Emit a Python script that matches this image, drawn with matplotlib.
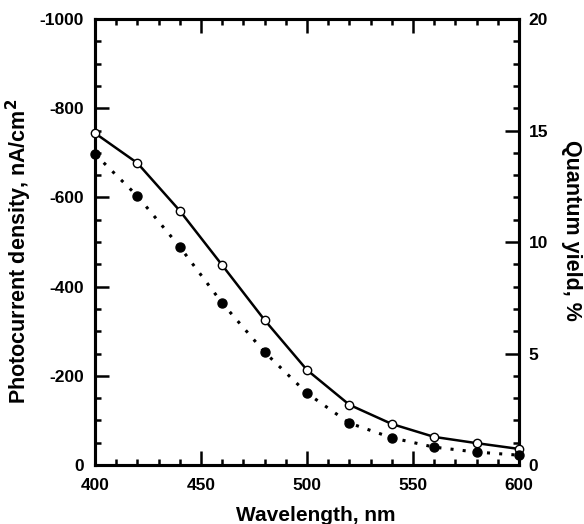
import matplotlib
matplotlib.use("Agg")
import matplotlib.pyplot as plt
from matplotlib.ticker import MultipleLocator

plt.rcParams['font.family'] = ['Liberation Sans', 'DejaVu Sans']
plt.rcParams['font.weight'] = 'bold'
plt.rcParams['axes.unicode_minus'] = False

wavelength = [400, 420, 440, 460, 480, 500, 520, 540, 560, 580, 600]
open_current = [-744, -677, -570, -448, -325, -213, -135, -92, -63, -49, -36]
filled_current = [-697, -603, -489, -363, -253, -161, -94, -61, -40, -29, -22]

fig = plt.figure(figsize=(5.84, 5.24), dpi=100)
ax = fig.add_axes([95/584, 1 - 465/524, (519-95)/584, (465-19)/524])

ax.set_xlim(400, 600)
ax.set_ylim(0, -1000)
ax.xaxis.set_major_locator(MultipleLocator(50))
ax.xaxis.set_minor_locator(MultipleLocator(10))
ax.yaxis.set_major_locator(MultipleLocator(200))
ax.yaxis.set_minor_locator(MultipleLocator(50))
ax.tick_params(which='both', direction='in', top=True, right=False, width=1.8, labelsize=12.5)
ax.tick_params(which='major', length=10)
ax.tick_params(which='minor', length=4.5)
ax.tick_params(axis='x', pad=9)
ax.tick_params(axis='y', pad=8)
for s in ax.spines.values():
    s.set_linewidth(2.2)
for lbl in ax.get_xticklabels() + ax.get_yticklabels():
    lbl.set_fontweight('bold')

ax2 = ax.twinx()
ax2.set_ylim(0, 20)
ax2.yaxis.set_major_locator(MultipleLocator(5))
ax2.yaxis.set_minor_locator(MultipleLocator(1))
ax2.tick_params(which='both', direction='in', width=1.8, labelsize=12.5, pad=7)
ax2.tick_params(which='major', length=10)
ax2.tick_params(which='minor', length=4.5)
for s in ax2.spines.values():
    s.set_linewidth(2.2)
for lbl in ax2.get_yticklabels():
    lbl.set_fontweight('bold')

# draw data on top of twin axes so markers over spines are visible
ax.set_zorder(ax2.get_zorder() + 1)
ax.patch.set_visible(False)
ax.plot(wavelength, open_current, color='black', lw=1.8, ls='-', marker='o',
        mfc='white', mec='black', ms=6, mew=1.0, zorder=5, clip_on=False)
ax.plot(wavelength, filled_current, color='black', lw=2.2, ls=(0, (1, 3)), marker='o',
        mfc='black', mec='black', ms=6.5, zorder=5, clip_on=False)

ax.set_xlabel('Wavelength, nm', fontsize=15, fontweight='bold')
ax.xaxis.set_label_coords(0.52, -0.114)
ax.xaxis.label.set_va('center')
ax.set_ylabel('Photocurrent density, nA/cm$^\\mathbf{2}$', fontsize=15.5, fontweight='bold')
ax.yaxis.set_label_coords(-0.179, 0.48)
ax.yaxis.label.set_va('center')
ax2.set_ylabel('Quantum yield, %', fontsize=15.5, fontweight='bold', rotation=270)
ax2.yaxis.set_label_coords(1.124, 0.527)
ax2.yaxis.label.set_va('center')
ax2.yaxis.label.set_ha('center')

fig.savefig('out.png', dpi=100)
